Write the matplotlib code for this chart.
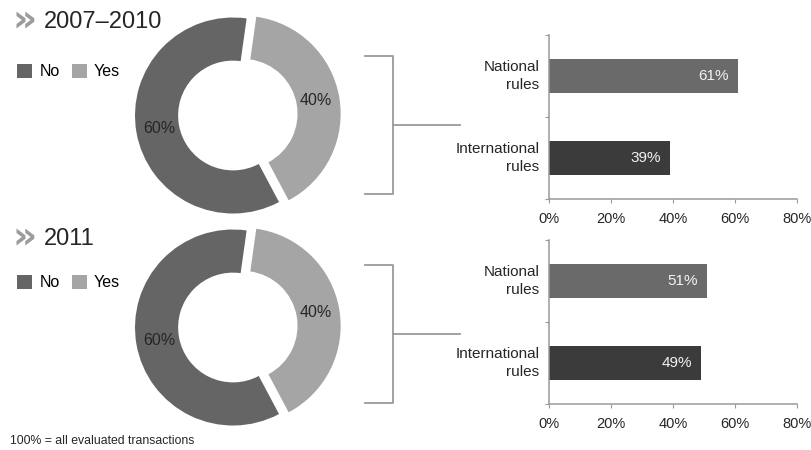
import matplotlib.pyplot as plt
from matplotlib.lines import Line2D

plt.rcParams['font.family'] = ['Liberation Sans', 'DejaVu Sans']

# two reporting periods, each with a yes/no split and a rules split
periods = ["2007\u20132010", "2011"]
pie_labels = ["Yes", "No"]
pie_values = [[40, 60], [40, 60]]
rule_labels = ["International\nrules", "National\nrules"]
rule_values = [[39, 61], [49, 51]]
x_ticks = [0, 20, 40, 60, 80]

c_no = "#656565"
c_yes = "#a5a5a5"
c_nat = "#6a6a6a"
c_int = "#3b3b3b"
c_text = "#262626"
c_axis = "#9a9a9a"

W, H = 811, 450
fig = plt.figure(figsize=(W / 100, H / 100), dpi=100)


def fbox(x0, y0, x1, y1):
    # pixel box (top-left origin) -> figure fraction rect
    return [x0 / W, 1 - y1 / H, (x1 - x0) / W, (y1 - y0) / H]


def fline(xs, ys):
    fig.add_artist(Line2D([x / W for x in xs], [1 - y / H for y in ys],
                          color=c_axis, lw=1.3, transform=fig.transFigure))


# vertical offsets of the second block, per element
off_title = [0, 217]
off_legend = [0, 211]
off_donut = [0, 212]
off_bracket = [0, 209]
off_bars = [0, 205]

for k, period in enumerate(periods):
    # heading with chevrons
    ty = 28 + off_title[k]
    fig.text(13 / W, 1 - (ty + 3) / H, "\u00bb", fontsize=27, fontweight="bold",
             color="#9c9c9c", family="DejaVu Sans", va="baseline")
    fig.text(44 / W, 1 - ty / H, period, fontsize=17, color=c_text,
             va="baseline")

    # donut
    cx, cy, r = 233, 115.5 + off_donut[k], 98
    pad = 1.15
    ax = fig.add_axes(fbox(cx - r * pad, cy - r * pad, cx + r * pad, cy + r * pad))
    wedges, _, autotexts = ax.pie(
        pie_values[k], colors=[c_yes, c_no], startangle=82, counterclock=False,
        explode=[0.1, 0], radius=1, pctdistance=0.76,
        autopct=lambda p: f"{p:.0f}%",
        wedgeprops=dict(width=0.44, linewidth=0),
        textprops=dict(fontsize=11.5, color=c_text))
    ax.set_xlim(-pad, pad)
    ax.set_ylim(-pad, pad)
    ax.set_aspect("equal")
    ax.axis("off")

    fig.legend([wedges[1], wedges[0]], [pie_labels[1], pie_labels[0]],
               loc="upper left",
               bbox_to_anchor=(17 / W, 1 - (64 + off_legend[k]) / H),
               ncol=2, frameon=False, fontsize=11.5, handlelength=0.95,
               handleheight=0.95, handletextpad=0.45, columnspacing=0.75,
               borderpad=0, borderaxespad=0)

    # bracket linking donut to the rules breakdown
    top, bot = 56 + off_bracket[k], 194 + off_bracket[k]
    mid = (top + bot) / 2
    fline([365, 393, 393, 365], [top, top, bot, bot])
    fline([393, 460], [mid, mid])

    # horizontal bars
    bx = fig.add_axes(fbox(549, 35 + off_bars[k], 797, 199 + off_bars[k]))
    ypos = [0, 1]
    bx.barh(ypos, rule_values[k], height=0.41, color=[c_int, c_nat])
    for yv, v in zip(ypos, rule_values[k]):
        bx.annotate(f"{v}%", (v, yv), xytext=(-6.5, 0), textcoords="offset points",
                    ha="right", va="center", fontsize=11, color="#f2f2f2")
    bx.set_xlim(0, 80)
    bx.set_ylim(-0.5, 1.5)
    bx.set_xticks(x_ticks)
    bx.set_xticklabels([f"{t}%" for t in x_ticks], fontsize=10.5, color=c_text)
    bx.set_yticks([-0.5, 0.5, 1.5])
    bx.set_yticklabels([])
    bx.set_yticks(ypos, minor=True)
    bx.set_yticklabels(rule_labels, minor=True, fontsize=11, color=c_text,
                       ha="right", va="center", linespacing=1.4)
    bx.tick_params(axis="y", which="minor", length=0, pad=7)
    bx.tick_params(axis="y", which="major", length=3, color=c_axis)
    bx.tick_params(axis="x", length=3, color=c_axis, pad=6)
    for s in ["top", "right"]:
        bx.spines[s].set_visible(False)
    for s in ["left", "bottom"]:
        bx.spines[s].set_color(c_axis)
        bx.spines[s].set_linewidth(1.1)

fig.text(10 / W, 1 - 444 / H, "100% = all evaluated transactions", fontsize=8.8,
         color=c_text, va="baseline")

fig.savefig("out.png", dpi=100)
